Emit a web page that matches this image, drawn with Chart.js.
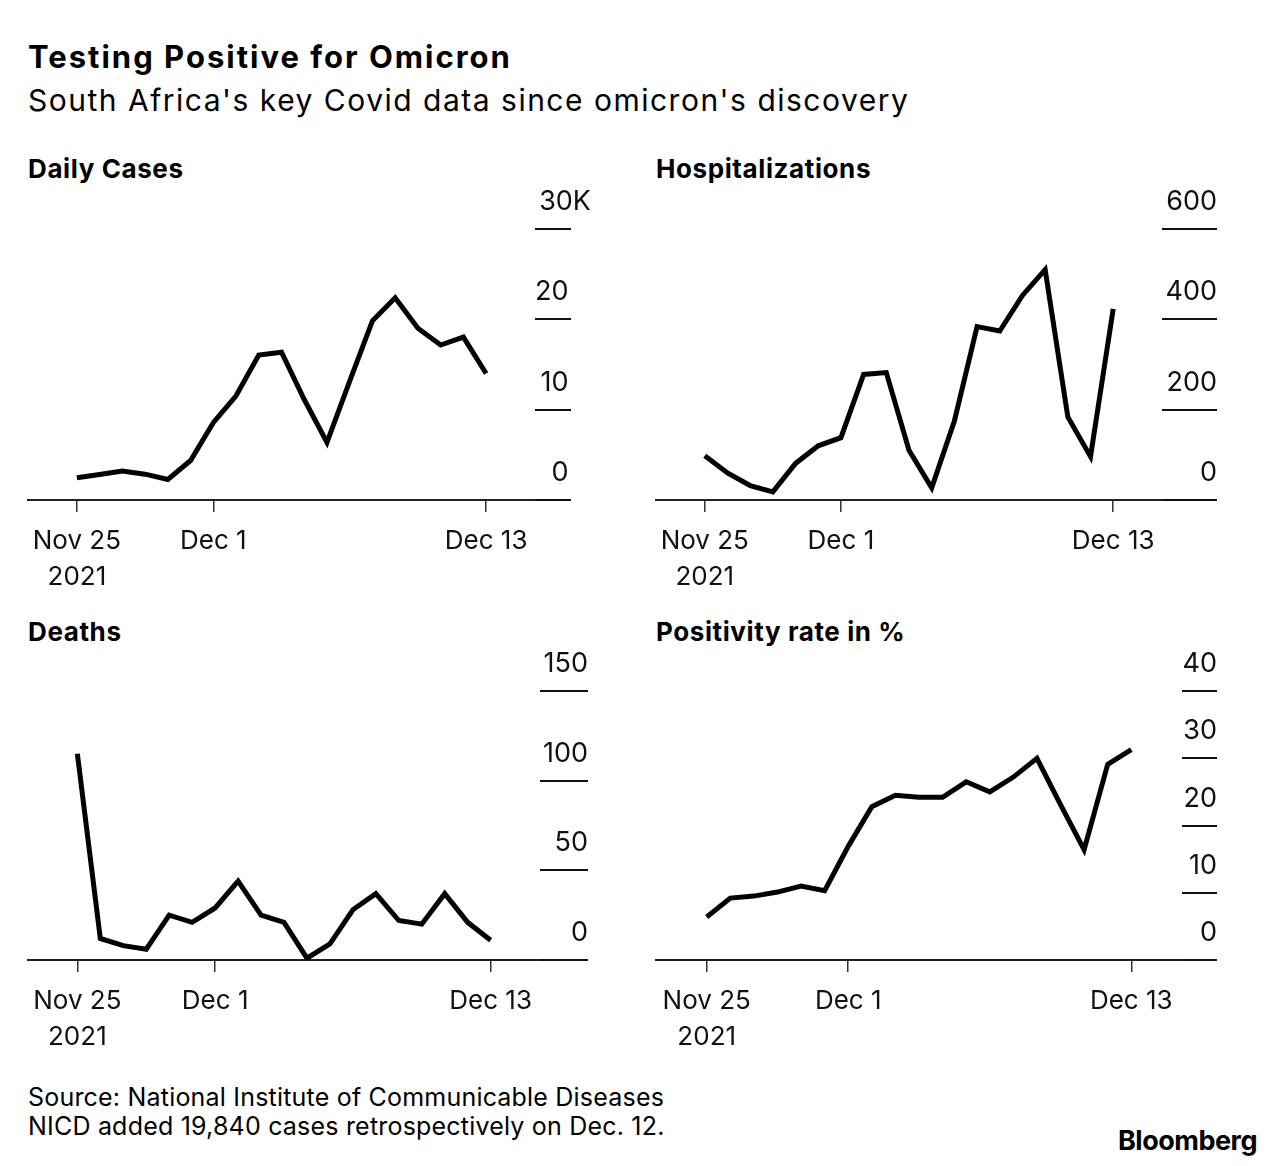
<!DOCTYPE html>
<html>
<head>
<meta charset="utf-8">
<script src="https://cdn.jsdelivr.net/npm/chart.js@4.4.1/dist/chart.umd.min.js"></script>
<style>
  html, body { margin: 0; padding: 0; background: #fff; }
  body { width: 1284px; height: 1166px; position: relative; overflow: hidden;
         font-family: Inter, "Liberation Sans", sans-serif; color: #000; }
  .t { position: absolute; white-space: nowrap; line-height: 1; }
  .bold { font-weight: 700; }
  canvas { position: absolute; }
</style>
</head>
<body>
<div class="t bold" style="left:28px; top:41px; font-size:31px; letter-spacing:2px;">Testing Positive for Omicron</div>
<div class="t" style="left:28px; top:85px; font-size:30px; letter-spacing:1.5px;">South Africa's key Covid data since omicron's discovery</div>

<div class="t bold" style="left:28px; top:155.5px; font-size:26px; letter-spacing:0.6px;">Daily Cases</div>
<div class="t bold" style="left:656px; top:155.5px; font-size:26px; letter-spacing:0.6px;">Hospitalizations</div>
<div class="t bold" style="left:28px; top:618.5px; font-size:26px; letter-spacing:0.6px;">Deaths</div>
<div class="t bold" style="left:656px; top:618.5px; font-size:26px; letter-spacing:0.6px;">Positivity rate in %</div>

<div class="t" style="left:28px; top:1085px; font-size:25px; letter-spacing:0.2px;">Source: National Institute of Communicable Diseases</div>
<div class="t" style="left:28px; top:1113.5px; font-size:25px; letter-spacing:0.2px;">NICD added 19,840 cases retrospectively on Dec. 12.</div>
<div class="t bold" style="left:1118px; top:1127px; font-size:27px; letter-spacing:-0.5px;">Bloomberg</div>

<canvas id="c1"></canvas>
<canvas id="c2"></canvas>
<canvas id="c3"></canvas>
<canvas id="c4"></canvas>

<script>
// one point per day, Nov 25 .. Dec 13 2021
const days = ['Nov 25', 'Nov 26', 'Nov 27', 'Nov 28', 'Nov 29', 'Nov 30', 'Dec 1',
  'Dec 2', 'Dec 3', 'Dec 4', 'Dec 5', 'Dec 6', 'Dec 7', 'Dec 8', 'Dec 9',
  'Dec 10', 'Dec 11', 'Dec 12', 'Dec 13'];

const dailyCases = [2465, 2828, 3220, 2858, 2273, 4373, 8561, 11535, 16055, 16366,
  11125, 6381, 13147, 19842, 22391, 19018, 17154, 18035, 14000];
const hospitalizations = [98, 60, 32, 18, 81, 120, 138, 278, 282, 110,
  27, 175, 384, 374, 453, 510, 184, 96, 423];
const deaths = [115, 12, 8, 6, 25, 21, 29, 44, 25, 21,
  1, 9, 28, 37, 22, 20, 37, 21, 11];
const positivity = [6.4, 9.2, 9.5, 10.1, 11.0, 10.3, 16.9, 22.8, 24.5, 24.2,
  24.2, 26.5, 25.0, 27.2, 30.0, 23.1, 16.4, 29.1, 31.3];

// x ticks: index into days
const xTickDays = [0, 6, 18];
const xTickLabels = [['Nov 25', '2021'], 'Dec 1', 'Dec 13'];

const casesTicks = [0, 10000, 20000, 30000];
const hospTicks = [0, 200, 400, 600];
const deathTicks = [0, 50, 100, 150];
const posTicks = [0, 10, 20, 30, 40];

const FONT = 'Inter, "Liberation Sans", sans-serif';
const INK = '#111';

// layout of each panel in page pixels: plot area left/right/top/bottom, tick length
const panels = [
  { id: 'c1', values: dailyCases, yTicks: casesTicks, canvasLeft: 0,
    left: 28, right: 535, top: 229, bottom: 500, tick: 36, labelPad: 56,
    fmt: v => v === 30000 ? '30K' : (v / 1000) + '\u2007\u2009' },
  { id: 'c2', values: hospitalizations, yTicks: hospTicks, canvasLeft: 628,
    left: 656, right: 1162, top: 229, bottom: 500, tick: 55, labelPad: 55,
    fmt: v => String(v) },
  { id: 'c3', values: deaths, yTicks: deathTicks, canvasLeft: 0,
    left: 28, right: 540, top: 691, bottom: 960, tick: 48, labelPad: 48,
    fmt: v => String(v) },
  { id: 'c4', values: positivity, yTicks: posTicks, canvasLeft: 628,
    left: 656, right: 1182, top: 691, bottom: 960, tick: 35, labelPad: 35,
    fmt: v => String(v) },
];

const X_AXIS_H = 94;
const TOP_PAD = 100;   // must exceed half label height + tick padding

panels.forEach(p => {
  const canvas = document.getElementById(p.id);
  const w = 650;
  const h = (p.bottom - p.top) + TOP_PAD + X_AXIS_H + 10;
  canvas.width = w;
  canvas.height = h;
  canvas.style.left = p.canvasLeft + 'px';
  canvas.style.top = (p.top - TOP_PAD) + 'px';

  const points = days.map((d, i) => ({ x: i, y: p.values[i] }));

  new Chart(canvas, {
    type: 'line',
    data: {
      datasets: [{
        data: points,
        borderColor: '#000',
        borderWidth: 5,
        pointRadius: 0,
        tension: 0,
        fill: false,
      }],
    },
    options: {
      responsive: false,
      animation: false,
      devicePixelRatio: 1,
      layout: {
        padding: {
          left: p.left - p.canvasLeft,
          top: TOP_PAD,
          right: w - (p.right - p.canvasLeft) - p.tick,
          bottom: 10,
        },
      },
      plugins: { legend: { display: false }, tooltip: { enabled: false } },
      scales: {
        x: {
          type: 'linear',
          min: -2.15,
          max: 20.15,
          afterBuildTicks: s => { s.ticks = xTickDays.map(v => ({ value: v })); },
          afterFit: s => { s.height = X_AXIS_H; },
          ticks: {
            callback: v => xTickLabels[xTickDays.indexOf(v)],
            font: { family: FONT, size: 26, lineHeight: 1.385 },
            color: INK,
            padding: 11,
            maxRotation: 0,
            autoSkip: false,
          },
          grid: { drawOnChartArea: false, tickLength: 12, color: '#333', lineWidth: 1.5 },
          border: { display: true, color: '#222', width: 2 },
        },
        y: {
          position: 'right',
          min: 0,
          max: p.yTicks[p.yTicks.length - 1],
          afterBuildTicks: s => { s.ticks = p.yTicks.map(v => ({ value: v })); },
          afterFit: s => { s.width = p.tick; },
          ticks: {
            mirror: true,
            padding: p.labelPad,
            labelOffset: -27,
            callback: p.fmt,
            font: { family: FONT, size: 27 },
            color: INK,
          },
          grid: { drawOnChartArea: false, tickLength: p.tick, color: INK, lineWidth: 2 },
          border: { display: false },
        },
      },
    },
  });
});
</script>
</body>
</html>
